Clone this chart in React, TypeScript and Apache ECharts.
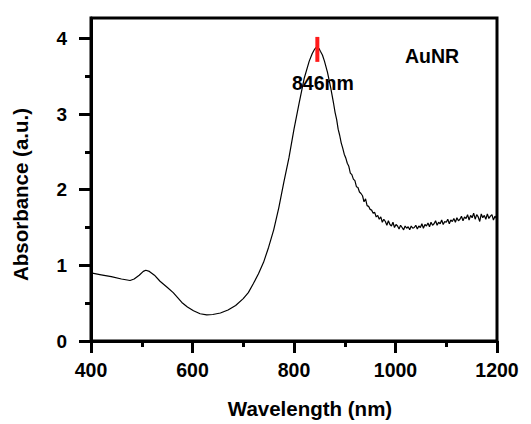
import React, { useEffect, useRef } from "react";
import * as echarts from "echarts";

// [wavelength (nm), absorbance (a.u.)] — smooth part of the spectrum
const smoothSpectrum: number[][] = [
  [400, 0.9], [420, 0.875], [440, 0.85], [460, 0.82], [477, 0.8], [485, 0.82], [495, 0.87],
  [503, 0.92], [508, 0.935], [515, 0.92], [525, 0.87], [536, 0.79], [550, 0.71], [562, 0.64],
  [579, 0.51], [590, 0.45], [602, 0.4], [615, 0.36], [628, 0.345], [640, 0.35], [655, 0.37],
  [670, 0.41], [685, 0.47], [700, 0.56], [710, 0.64], [720, 0.76], [730, 0.89], [740, 1.04],
  [750, 1.24], [760, 1.47], [770, 1.76], [780, 2.1], [790, 2.42], [800, 2.8], [810, 3.14],
  [820, 3.47], [830, 3.7], [836, 3.8], [840, 3.85], [843, 3.88], [846, 3.84], [849, 3.87],
  [852, 3.83], [856, 3.78], [860, 3.7], [866, 3.55], [872, 3.36], [878, 3.14],
];

// [wavelength (nm), absorbance (a.u.)] — noisy NIR part of the spectrum
const noisySpectrum: number[][] = [
  [881, 3.02], [884, 2.93], [887, 2.8], [890, 2.72], [893, 2.62], [896, 2.55], [899, 2.47],
  [902, 2.42], [905, 2.35], [908, 2.31], [911, 2.22], [914, 2.2], [917, 2.14], [920, 2.12],
  [923, 2.04], [926, 2.03], [929, 1.97], [932, 1.95], [935, 1.92], [938, 1.84], [941, 1.88],
  [944, 1.79], [947, 1.78], [950, 1.74], [953, 1.73], [956, 1.69], [959, 1.7], [962, 1.64],
  [965, 1.66], [968, 1.61], [971, 1.64], [974, 1.57], [977, 1.61], [980, 1.58], [983, 1.53],
  [986, 1.59], [989, 1.54], [992, 1.52], [995, 1.57], [998, 1.5], [1001, 1.54], [1004, 1.52],
  [1007, 1.48], [1010, 1.53], [1013, 1.5], [1016, 1.47], [1019, 1.52], [1022, 1.49], [1025, 1.51],
  [1028, 1.47], [1031, 1.52], [1034, 1.49], [1037, 1.5], [1040, 1.53], [1043, 1.48], [1046, 1.52],
  [1049, 1.5], [1052, 1.55], [1055, 1.49], [1058, 1.54], [1061, 1.52], [1064, 1.56], [1067, 1.51],
  [1070, 1.57], [1073, 1.53], [1076, 1.55], [1079, 1.59], [1082, 1.53], [1085, 1.57], [1088, 1.55],
  [1091, 1.6], [1094, 1.54], [1097, 1.58], [1100, 1.57], [1103, 1.61], [1106, 1.55], [1109, 1.6],
  [1112, 1.58], [1115, 1.62], [1118, 1.57], [1121, 1.63], [1124, 1.59], [1127, 1.61], [1130, 1.65],
  [1133, 1.59], [1136, 1.64], [1139, 1.62], [1142, 1.67], [1145, 1.6], [1148, 1.66], [1151, 1.63],
  [1154, 1.69], [1157, 1.61], [1160, 1.67], [1163, 1.64], [1166, 1.58], [1169, 1.68], [1172, 1.63],
  [1175, 1.66], [1178, 1.61], [1181, 1.68], [1184, 1.62], [1187, 1.65], [1190, 1.67], [1193, 1.6],
  [1196, 1.65], [1199, 1.62], [1200, 1.63],
];

const peakWavelength = 846;
const peakMarkerRange: number[] = [3.69, 4.02];
const yMajorTicks: number[] = [0, 1, 2, 3, 4];
const yMinorTicks: number[] = [0.5, 1.5, 2.5, 3.5];
const sampleLabel = "AuNR";
const peakLabel = "846nm";

const FONT = "Liberation Sans";

export default function App() {
  const ref = useRef<HTMLDivElement>(null);

  useEffect(() => {
    if (!ref.current) return;
    const chart = echarts.init(ref.current, undefined, { renderer: "svg" });
    const curve = smoothSpectrum.concat(noisySpectrum);
    const marker = peakMarkerRange.map((a) => [peakWavelength, a]);
    const yMin = 0;
    const yMax = 4.27;

    chart.setOption({
      animation: false,
      backgroundColor: "#ffffff",
      grid: {
        left: 91,
        right: 34,
        top: 18,
        bottom: 80,
        show: true,
        borderColor: "#000",
        borderWidth: 3,
        backgroundColor: "transparent",
      },
      xAxis: [
        {
          type: "value",
          position: "bottom",
          min: 400,
          max: 1200,
          interval: 200,
          name: "Wavelength (nm)",
          nameLocation: "middle",
          nameGap: 57,
          nameTextStyle: {
            fontFamily: FONT,
            fontWeight: "bold",
            fontSize: 20.5,
            color: "#000",
            padding: [0, 0, 0, 32],
          },
          axisLine: { show: true, lineStyle: { color: "#000", width: 3 } },
          axisTick: { show: true, inside: false, length: 12, lineStyle: { color: "#000", width: 3 } },
          minorTick: { show: true, splitNumber: 2, length: 6, lineStyle: { color: "#000", width: 3 } },
          axisLabel: {
            margin: 19,
            fontFamily: FONT,
            fontWeight: "bold",
            fontSize: 19.5,
            color: "#000",
            formatter: (v: number) => String(v),
          },
          splitLine: { show: false },
        },
      ],
      yAxis: [
        {
          type: "value",
          position: "left",
          min: yMin,
          max: yMax,
          name: "Absorbance (a.u.)",
          nameLocation: "middle",
          nameGap: 60,
          nameTextStyle: {
            fontFamily: FONT,
            fontWeight: "bold",
            fontSize: 20.5,
            color: "#000",
            padding: [0, 30, 0, 0],
          },
          axisLine: { show: true, lineStyle: { color: "#000", width: 3 } },
          axisTick: {
            show: true,
            inside: false,
            length: 12,
            customValues: yMajorTicks,
            lineStyle: { color: "#000", width: 3 },
          },
          axisLabel: {
            margin: 24,
            customValues: yMajorTicks,
            fontFamily: FONT,
            fontWeight: "bold",
            fontSize: 19,
            color: "#000",
          },
          splitLine: { show: false },
        },
        {
          type: "value",
          position: "left",
          min: yMin,
          max: yMax,
          axisLine: { show: false },
          axisTick: {
            show: true,
            inside: false,
            length: 6,
            customValues: yMinorTicks,
            lineStyle: { color: "#000", width: 3 },
          },
          axisLabel: { show: false },
          splitLine: { show: false },
        },
      ],
      series: [
        {
          type: "line",
          xAxisIndex: 0,
          yAxisIndex: 0,
          data: curve,
          showSymbol: false,
          symbol: "none",
          lineStyle: { color: "#000", width: 1.2 },
          z: 3,
        },
        {
          type: "line",
          xAxisIndex: 0,
          yAxisIndex: 0,
          data: marker,
          showSymbol: false,
          symbol: "none",
          lineStyle: { color: "#ff1a1a", width: 4 },
          z: 4,
        },
      ],
      graphic: [
        {
          type: "text",
          left: 433 - 28,
          top: 57 - 11,
          style: { text: sampleLabel, font: `bold 19.5px "${FONT}"`, fill: "#000" },
        },
        {
          type: "text",
          left: 324 - 32,
          top: 84 - 11,
          style: { text: peakLabel, font: `bold 19.5px "${FONT}"`, fill: "#000" },
        },
      ],
    });

    return () => chart.dispose();
  }, []);

  return (
    <div
      ref={ref}
      style={{ position: "fixed", left: 0, top: 0, width: 531, height: 424, background: "#fff" }}
    />
  );
}
